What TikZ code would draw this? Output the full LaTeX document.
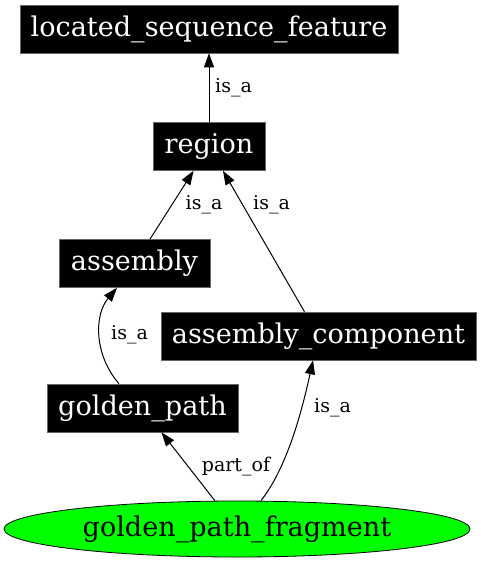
\documentclass[tikz,border=0pt]{standalone}
\usepackage{fontspec}
\setmainfont{DejaVu Serif}
\usetikzlibrary{arrows.meta,shapes.geometric,calc}
\tikzset{
  box/.style={rectangle, fill=black, draw=black!60, line width=0.6pt, text=white, inner sep=0pt,
    minimum height=48pt, font=\fontsize{27.1}{30}\selectfont},
  oval/.style={ellipse, fill=green, draw=black, line width=0.8pt, inner sep=0pt,
    minimum width=466pt, minimum height=56pt, font=\fontsize{27.1}{30}\selectfont},
  edge/.style={draw=black, line width=1pt, -{Triangle[length=14pt,width=10pt]}},
  lbl/.style={inner sep=0pt, font=\fontsize{19}{22}\selectfont}
}
\begin{document}
\begin{tikzpicture}[x=1pt,y=-1pt]
\useasboundingbox (0,0) rectangle (481,563);
\node[box, minimum width=378pt] (lsf) at (209,29) {located\_sequence\_feature};
\node[box, minimum width=112pt] (region) at (209,146.5) {region};
\node[box, minimum width=151pt] (assembly) at (134.5,263.5) {assembly};
\node[box, minimum width=315pt] (ac) at (318.5,336) {assembly\_component};
\node[box, minimum width=191pt] (gp) at (142.5,408) {golden\_path};
\node[oval] (gpf) at (237,529) {golden\_path\_fragment};

\draw[edge] (region.north) -- (lsf.south);
\draw[edge] (assembly) -- (region);
\draw[edge] (ac) -- (region);
\draw[edge] (gpf) -- (gp);
\draw[edge] ($(gp.north)+(-23.5,0)$) .. controls (94,355) and (94,315) .. ($(assembly.south)+(-17.5,0)$);
\draw[edge] ($(gpf.north)+(24,0)$) .. controls (285,470) and (300,420) .. ($(ac.south)+(-5.5,0)$);

\node[lbl] (l1) at (233.5,88) {is\_a};
\node[lbl] (l2) at (204,205) {is\_a};
\node[lbl] (l3) at (271.5,205) {is\_a};
\node[lbl] (l4) at (129.5,335) {is\_a};
\node[lbl] (l5) at (236,467) {part\_of};
\node[lbl] (l6) at (332.5,408) {is\_a};
\end{tikzpicture}
\end{document}
